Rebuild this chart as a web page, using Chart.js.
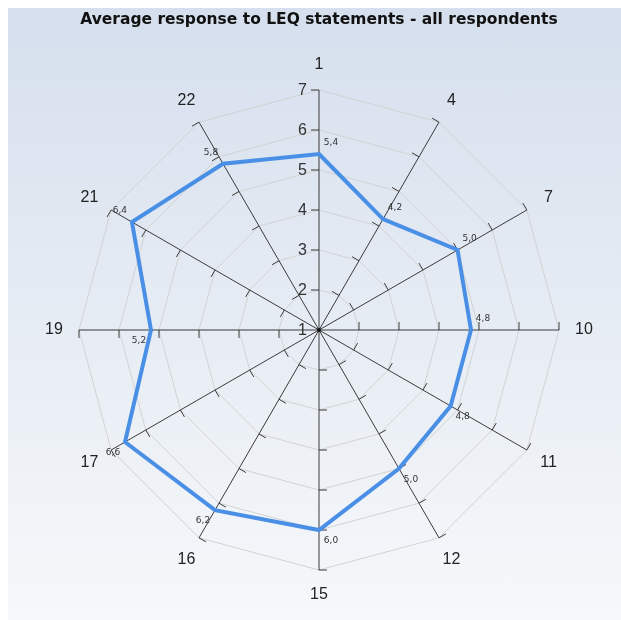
<!DOCTYPE html>
<html>
<head>
<meta charset="utf-8">
<script src="https://cdn.jsdelivr.net/npm/chart.js@4.4.0/dist/chart.umd.min.js"></script>
<style>
html, body { margin: 0; padding: 0; background: #fff; }
#wrap { position: relative; width: 621px; height: 620px; overflow: hidden; }
#bg { position: absolute; left: 8px; top: 8px; right: 0; bottom: 0;
      background: linear-gradient(#d5dfed 0%, #e6ecf4 50%, #f6f8fa 100%); }
#mycanvas { position: absolute; left: 0; top: 0; }
</style>
</head>
<body>
<div id="wrap"><div id="bg"></div><canvas id="mycanvas" width="621" height="620"></canvas></div>
<script>
// statements on the radar (clockwise from top)
var statements = ["1", "4", "7", "10", "11", "12", "15", "16", "17", "19", "21", "22"];
// average response per statement
var averages = [5.4, 4.2, 5.0, 4.8, 4.8, 5.0, 6.0, 6.2, 6.6, 5.2, 6.4, 5.8];
// scale range
var scaleMin = 1;
var scaleMax = 7;

// tick marks, scale numbers, statement labels and value labels
var radarExtras = {
	id: 'radarExtras',
	beforeDatasetsDraw: function(chart) {
		var ctx = chart.ctx;
		var scale = chart.scales.r;
		var n = chart.data.labels.length;
		ctx.save();
		ctx.strokeStyle = '#3a3a3a';
		ctx.lineWidth = 1;
		for (var i = 0; i < n; i++) {
			var a = scale.getIndexAngle(i) - Math.PI / 2;
			var px = Math.sin(a), py = -Math.cos(a);
			scale.ticks.forEach(function(t) {
				if (t.value <= scaleMin) return;
				var p = scale.getPointPositionForValue(i, t.value);
				ctx.beginPath();
				ctx.moveTo(p.x, p.y);
				ctx.lineTo(p.x + px * 8, p.y + py * 8);
				ctx.stroke();
			});
		}
		// centre dot
		ctx.fillStyle = '#111';
		ctx.beginPath();
		ctx.arc(scale.xCenter, scale.yCenter, 2, 0, Math.PI * 2);
		ctx.fill();
		// scale numbers along the first axis
		ctx.fillStyle = '#333';
		ctx.font = '16px "Liberation Sans", Arial, sans-serif';
		ctx.textAlign = 'right';
		ctx.textBaseline = 'middle';
		scale.ticks.forEach(function(t) {
			var p = scale.getPointPositionForValue(0, t.value);
			ctx.fillText(t.label, p.x - 12, p.y + 1);
		});
		// statement labels round the outside
		ctx.fillStyle = '#222';
		ctx.textAlign = 'center';
		for (var j = 0; j < n; j++) {
			var q = scale.getPointPosition(j, scale.drawingArea + 25);
			ctx.fillText(chart.data.labels[j], q.x, q.y);
		}
		ctx.restore();
	},
	afterDatasetsDraw: function(chart) {
		var ctx = chart.ctx;
		var meta = chart.getDatasetMeta(0);
		var n = chart.data.labels.length;
		ctx.save();
		ctx.fillStyle = '#333';
		ctx.font = '9px "DejaVu Sans", Verdana, sans-serif';
		ctx.textAlign = 'center';
		ctx.textBaseline = 'middle';
		meta.data.forEach(function(pt, i) {
			var deg = i * 360 / n;
			var dx = deg <= 180 ? 12 : -12;
			var dy = (deg <= 90 || deg > 270) ? -11 : 11;
			var txt = averages[i].toFixed(1).replace('.', ',');
			ctx.fillText(txt, pt.x + dx, pt.y + dy);
		});
		ctx.restore();
	}
};

var chartdata = {
	labels: statements,
	datasets: [
		{
			label: "Average response",
			fill: false,
			borderColor: "#4a8fe6",
			borderWidth: 4,
			pointRadius: 0,
			pointHoverRadius: 0,
			tension: 0,
			data: averages
		}
	]
};

var ctx = document.getElementById('mycanvas');

var RadarGraph = new Chart(ctx, {
	type: 'radar',
	data: chartdata,
	plugins: [radarExtras],
	options: {
		responsive: false,
		animation: false,
		layout: { padding: { left: 17, right: 0, top: 0, bottom: 50 } },
		plugins: {
			legend: { display: false },
			tooltip: { enabled: false },
			title: {
				display: true,
				text: 'Average response to LEQ statements - all respondents',
				color: '#111',
				font: { family: '"DejaVu Sans", Verdana, sans-serif', size: 15.5, weight: 'bold', lineHeight: 1.2 },
				padding: { top: 11, bottom: 60.4 }
			}
		},
		scales: {
			r: {
				min: scaleMin,
				max: scaleMax,
				beginAtZero: false,
				ticks: { stepSize: 1, display: false },
				grid: { color: '#d2d2d2', lineWidth: 1 },
				angleLines: { color: '#3a3a3a', lineWidth: 1 },
				pointLabels: { display: false }
			}
		}
	}
});
</script>
</body>
</html>
